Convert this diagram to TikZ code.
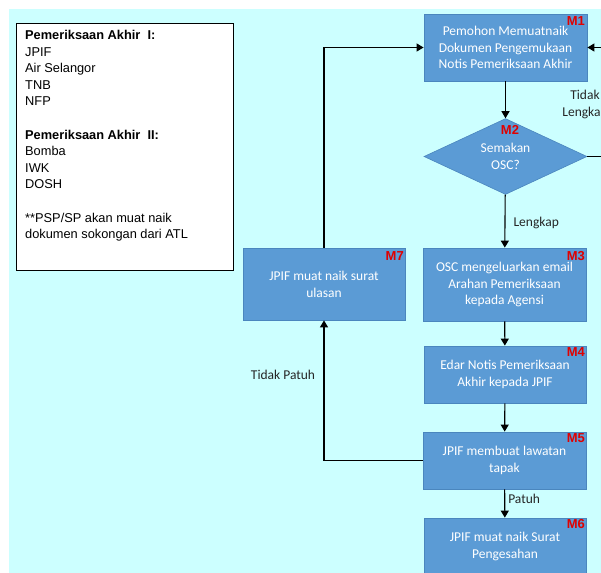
\documentclass[tikz,border=0pt]{standalone}
\usepackage{fontspec}
\setmainfont{Liberation Sans}
\newfontfamily\calfont{Carlito}
\usetikzlibrary{shapes.geometric,arrows.meta}
\definecolor{bgcyan}{HTML}{CCFFFF}
\definecolor{boxblue}{HTML}{5B9BD5}
\definecolor{boxedge}{HTML}{4A86BE}
\definecolor{mred}{HTML}{E00000}
\tikzset{
  stepbox/.style={rectangle, fill=boxblue, draw=boxedge, line width=0.8pt, text=white,
    align=center, inner sep=0pt, font=\calfont\fontsize{13.5}{16.8}\selectfont},
  decbox/.style={diamond, fill=boxblue, draw=boxedge, line width=0.6pt, text=white,
    align=center, inner sep=0pt, font=\calfont\fontsize{13.5}{16.8}\selectfont},
  mlab/.style={text=mred, font=\bfseries\fontsize{13}{14}\selectfont, inner sep=0pt, anchor=north east},
  flowlabel/.style={text=black!85, font=\calfont\fontsize{13.5}{16.8}\selectfont, inner sep=0pt, align=center},
  conn/.style={line width=1.1pt, -{Triangle[width=8pt,length=7pt]}},
  plain/.style={line width=1.1pt},
}
\begin{document}
\begin{tikzpicture}[x=1pt,y=-1pt]
\useasboundingbox (0,0) rectangle (601,572);
\clip (0,0) rectangle (601,572);
\fill[bgcyan] (9,9) rectangle (620,600);

% legend
\node[draw=black, line width=0.9pt, fill=white, minimum width=217pt, minimum height=247pt, anchor=north west, inner sep=0pt] (legend) at (16,23) {};
\node[anchor=north west, inner sep=0pt, align=left, font=\fontsize{12.8}{16.6}\selectfont] (legendtext) at (25,30)
{\textbf{Pemeriksaan Akhir\ \ I:}\\JPIF\\Air Selangor\\TNB\\NFP\\[16.6pt]\textbf{Pemeriksaan Akhir\ \ II:}\\Bomba\\IWK\\DOSH\\[16.6pt]**PSP/SP akan muat naik\\dokumen sokongan dari ATL};

% boxes
\node[stepbox, minimum width=163pt, minimum height=67pt] (m1) at (505.5,47.5)
  {Pemohon Memuatnaik\\Dokumen Pengemukaan\\Notis Pemeriksaan Akhir};
\node[mlab] (m1l) at (585,16) {M1};

\node[decbox, minimum width=163pt, minimum height=75pt] (m2) at (505.5,156.5) {Semakan\\OSC?};
\node[text=mred, font=\bfseries\fontsize{13}{14}\selectfont, inner sep=0pt] (m2l) at (510,130) {M2};

\node[stepbox, minimum width=163pt, minimum height=73pt] (m3) at (504.5,284.5)
  {OSC mengeluarkan email\\Arahan Pemeriksaan\\kepada Agensi};
\node[mlab] (m3l) at (585,251) {M3};

\node[stepbox, minimum width=162pt, minimum height=72pt] (m7) at (324,284)
  {JPIF muat naik surat\\ulasan};
\node[mlab] (m7l) at (404,251) {M7};

\node[stepbox, minimum width=162pt, minimum height=57pt] (m4) at (505,374.5)
  {Edar Notis Pemeriksaan\\Akhir kepada JPIF};
\node[mlab] (m4l) at (585,347) {M4};

\node[stepbox, minimum width=163pt, minimum height=57pt] (m5) at (504.5,460.5)
  {JPIF membuat lawatan\\tapak};
\node[mlab] (m5l) at (585,433) {M5};

\node[stepbox, minimum width=162pt, minimum height=57pt] (m6) at (505,546.5)
  {JPIF muat naik Surat\\Pengesahan};
\node[mlab] (m6l) at (585,519) {M6};

% connectors
\draw[conn] (m1) -- (m2);
\draw[conn] (m2) -- (m3) node[flowlabel, pos=0.5, anchor=west, xshift=8pt, yshift=-2pt] (lengkap) {Lengkap};
\draw[conn] (m3) -- (m4);
\draw[conn] (m4) -- (m5);
\draw[conn] (m5) -- (m6) node[flowlabel, pos=0.35, anchor=west, xshift=3pt] (patuh) {Patuh};
\coordinate (leftturn) at (324,460.5);
\draw[conn] (m5.west) -- (leftturn) -- (m7.south);
\node[flowlabel] (tidakpatuh) at (283,375) {Tidak Patuh};
\draw[conn] (m7.north) |- (m1.west);
\coordinate (rightout) at (640,156.5);
\coordinate (rightin) at (640,47.5);
\draw[plain] (m2.east) -- (rightout);
\draw[conn] (rightin) -- (m1.east);
\node[flowlabel] (tidaklengkap) at (585,104.5) {Tidak\\Lengkap};
\end{tikzpicture}
\end{document}
